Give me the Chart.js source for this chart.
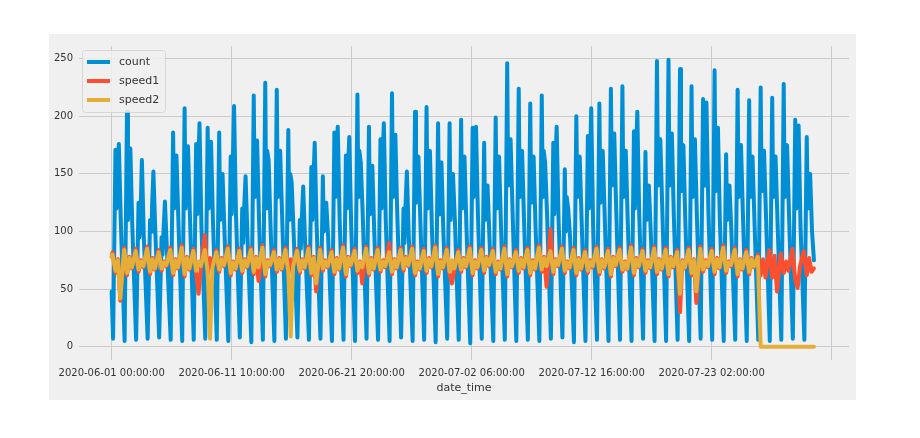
<!DOCTYPE html>
<html>
<head>
<meta charset="utf-8">
<script src="https://cdn.jsdelivr.net/npm/chart.js@4.4.1/dist/chart.umd.min.js"></script>
<style>
  body { margin: 0; background: #ffffff; }
  #fig { position: absolute; left: 49px; top: 34px; width: 807px; height: 366px; background: #f0f0f0; }
</style>
</head>
<body>
<div id="fig"><canvas id="myChart" width="807" height="366"></canvas></div>
<script>
// hours since 2020-06-01 00:00, a few readings per day (61 days)
var countHours = [3, 8, 10, 12, 15, 19];
var speedHours = [2, 8, 13, 18];
var startValues = [48, 78, 78];   // count, speed1, speed2 at hour 0
var endValues = [75, 68, 0];      // at lastHour
var lastHour = 1463;

var countNight = [7, 5, 6, 7, 8, 6, 5, 6, 7, 6,
  5, 8, 4, 6, 5, 7, 8, 6, 7, 5,
  6, 5, 7, 6, 5, 8, 5, 6, 4, 7,
  6, 3, 7, 5, 6, 5, 6, 5, 7, 8,
  4, 5, 6, 5, 6, 5, 7, 5, 5, 6,
  5, 7, 6, 5, 6, 5, 6, 5, 6, 7,
  6];
var countAm = [171, 204, 125, 110, 95, 186, 207, 176, 190, 186,
  165, 120, 218, 229, 223, 188, 110, 156, 148, 186,
  166, 219, 191, 180, 220, 120, 204, 208, 194, 194,
  197, 190, 177, 199, 246, 224, 211, 218, 177, 154,
  200, 183, 211, 224, 226, 187, 169, 248, 249, 241,
  226, 215, 240, 167, 223, 214, 225, 216, 228, 197,
  182];
var countDip = [120, 110, 95, 100, 80, 120, 120, 115, 120, 110,
  115, 90, 130, 120, 130, 110, 85, 110, 100, 130,
  120, 130, 115, 120, 130, 90, 125, 120, 115, 110,
  120, 130, 110, 120, 140, 130, 125, 130, 115, 100,
  130, 120, 125, 140, 130, 120, 110, 140, 140, 135,
  130, 140, 135, 110, 130, 130, 135, 130, 130, 120,
  120];
var countMid = [150, 160, 110, 120, 100, 150, 160, 150, 160, 140,
  150, 120, 160, 170, 160, 150, 110, 140, 120, 160,
  150, 170, 150, 160, 170, 120, 160, 165, 155, 150,
  160, 165, 140, 160, 170, 165, 160, 170, 150, 130,
  160, 150, 165, 175, 170, 160, 140, 180, 175, 170,
  170, 175, 170, 140, 165, 160, 170, 165, 170, 160,
  150];
var countPm = [176, 172, 162, 152, 126, 166, 174, 194, 178, 150,
  209, 148, 179, 162, 170, 143, 139, 177, 125, 191,
  182, 160, 157, 194, 184, 152, 165, 170, 160, 150,
  165, 191, 140, 165, 180, 170, 165, 160, 191, 120,
  165, 207, 170, 185, 170, 204, 140, 180, 185, 175,
  180, 212, 190, 140, 175, 165, 170, 165, 175, 192,
  150];
var countEve = [110, 105, 95, 100, 85, 110, 115, 105, 110, 100,
  115, 95, 110, 105, 115, 100, 90, 105, 95, 110,
  105, 115, 100, 110, 115, 95, 110, 105, 100, 110,
  105, 115, 95, 105, 120, 110, 105, 115, 110, 95,
  110, 105, 115, 120, 110, 115, 100, 120, 115, 110,
  115, 120, 110, 100, 115, 110, 115, 110, 115, 105,
  100];

var speed1Night = [82, 86, 85, 87, 84, 86, 88, 85, 97, 84,
  87, 85, 86, 88, 84, 86, 85, 87, 86, 84,
  88, 85, 87, 86, 90, 86, 87, 85, 88, 86,
  84, 87, 86, 85, 87, 84, 86, 88, 102, 87,
  86, 84, 87, 85, 86, 88, 85, 87, 86, 84,
  86, 87, 85, 88, 86, 84, 80, 84, 81, 85,
  83];
var speed1Am = [64, 62, 65, 63, 66, 62, 61, 64, 63, 65,
  62, 64, 63, 61, 65, 63, 64, 62, 66, 63,
  61, 64, 62, 65, 63, 66, 62, 64, 61, 63,
  65, 62, 64, 63, 61, 64, 62, 65, 63, 64,
  62, 64, 63, 61, 65, 62, 64, 63, 61, 30,
  62, 65, 63, 64, 61, 63, 62, 60, 64, 58,
  62];
var speed1Noon = [76, 78, 75, 77, 74, 76, 78, 46, 77, 77,
  74, 76, 78, 75, 77, 76, 76, 78, 75, 77,
  78, 74, 77, 75, 76, 78, 74, 77, 75, 55,
  77, 75, 78, 74, 76, 77, 75, 78, 76, 74,
  77, 75, 76, 78, 74, 77, 75, 76, 78, 75,
  76, 75, 77, 74, 76, 77, 76, 79, 74, 51,
  77];
var speed1Eve = [40, 68, 69, 67, 70, 68, 67, 69, 68, 70,
  67, 69, 57, 70, 67, 69, 68, 48, 69, 67,
  70, 55, 67, 69, 68, 70, 67, 69, 68, 67,
  69, 68, 70, 67, 69, 68, 67, 52, 70, 68,
  67, 69, 68, 70, 67, 69, 68, 67, 69, 68,
  38, 69, 68, 70, 67, 69, 60, 48, 66, 70,
  65];

var speed2Night = [80, 84, 83, 85, 82, 84, 86, 83, 84, 82,
  85, 83, 84, 86, 82, 84, 83, 85, 84, 82,
  86, 83, 85, 84, 82, 84, 85, 83, 86, 84,
  82, 85, 84, 83, 85, 82, 84, 86, 83, 85,
  84, 82, 85, 83, 84, 86, 83, 85, 84, 82,
  84, 85, 83, 86, 84, 82, 78, 0, 0, 0,
  0];
var speed2Am = [66, 64, 67, 65, 68, 64, 63, 66, 65, 67,
  64, 66, 65, 63, 67, 65, 66, 64, 68, 65,
  63, 66, 64, 67, 65, 68, 64, 66, 63, 65,
  67, 64, 66, 65, 63, 66, 64, 67, 65, 66,
  64, 66, 65, 63, 67, 64, 66, 65, 63, 46,
  64, 67, 65, 66, 63, 65, 0, 0, 0, 0,
  0];
var speed2Noon = [75, 77, 74, 76, 73, 75, 77, 74, 7, 76,
  73, 75, 77, 74, 76, 9, 75, 77, 74, 76,
  77, 73, 76, 74, 75, 77, 73, 76, 74, 75,
  76, 74, 77, 73, 75, 76, 74, 77, 75, 73,
  76, 74, 75, 77, 73, 76, 74, 75, 77, 74,
  75, 74, 76, 73, 75, 76, 0, 0, 0, 0,
  0];
var speed2Eve = [42, 69, 70, 68, 71, 69, 68, 70, 69, 71,
  68, 70, 69, 71, 68, 70, 69, 55, 70, 68,
  71, 69, 68, 70, 69, 71, 68, 70, 69, 68,
  70, 69, 71, 68, 70, 69, 68, 70, 71, 69,
  68, 70, 69, 71, 68, 70, 69, 68, 70, 69,
  48, 70, 69, 71, 68, 70, 0, 0, 0, 0,
  0];

var xTickHours = [0, 250, 500, 750, 1000, 1250, 1500];
var xTickLabels = ["2020-06-01 00:00:00", "2020-06-11 10:00:00", "2020-06-21 20:00:00",
  "2020-07-02 06:00:00", "2020-07-12 16:00:00", "2020-07-23 02:00:00", ""];
var yTicks = [0, 50, 100, 150, 200, 250];

// turn the per-day arrays into {x, y} points in time order
function toPoints(hours, series, first, last) {
  var pts = [{x: 0, y: first}];
  for (var d = 0; d < series[0].length; d++) {
    for (var k = 0; k < hours.length; k++) {
      pts.push({x: d * 24 + hours[k], y: series[k][d]});
    }
  }
  pts.push({x: lastHour, y: last});
  return pts;
}

var txt = "#333333";
var font = {family: "'DejaVu Sans'", size: 10};

// matplotlib-style legend box inside the plot, top left
var legendBox = {
  id: "legendBox",
  afterDatasetsDraw: function (chart) {
    var ctx = chart.ctx;
    var a = chart.chartArea;
    var x = a.left + 3, y = a.top + 4, w = 83, h = 62;
    ctx.save();
    ctx.fillStyle = "rgba(240,240,240,0.85)";
    ctx.strokeStyle = "rgba(204,204,204,0.7)";
    ctx.lineWidth = 1;
    ctx.beginPath();
    if (ctx.roundRect) ctx.roundRect(x + 0.5, y + 0.5, w, h, 3);
    else ctx.rect(x + 0.5, y + 0.5, w, h);
    ctx.fill();
    ctx.stroke();
    ctx.font = "11px 'DejaVu Sans'";
    ctx.textBaseline = "middle";
    chart.data.datasets.forEach(function (ds, i) {
      var ly = y + 12 + i * 19;
      ctx.strokeStyle = ds.borderColor;
      ctx.lineWidth = 4;
      ctx.lineCap = "butt";
      ctx.beginPath();
      ctx.moveTo(x + 5, ly);
      ctx.lineTo(x + 28, ly);
      ctx.stroke();
      ctx.fillStyle = txt;
      ctx.fillText(ds.label, x + 37, ly);
    });
    ctx.restore();
  }
};

new Chart("myChart", {
  type: "line",
  data: {
    datasets: [
      {
        label: "count",
        data: toPoints(countHours, [countNight, countAm, countDip, countMid, countPm, countEve], startValues[0], endValues[0]),
        borderColor: "#008fd5",
        order: 2
      },
      {
        label: "speed1",
        data: toPoints(speedHours, [speed1Night, speed1Am, speed1Noon, speed1Eve], startValues[1], endValues[1]),
        borderColor: "#fc4f30",
        order: 1
      },
      {
        label: "speed2",
        data: toPoints(speedHours, [speed2Night, speed2Am, speed2Noon, speed2Eve], startValues[2], endValues[2]),
        borderColor: "#e5ae38",
        order: 0
      }
    ]
  },
  options: {
    responsive: false,
    animation: false,
    devicePixelRatio: 1,
    parsing: false,
    datasets: {
      line: {
        borderWidth: 4,
        pointRadius: 0,
        tension: 0,
        fill: false,
        borderJoinStyle: "round",
        borderCapStyle: "round"
      }
    },
    layout: {padding: {left: 0, right: 7, top: 7, bottom: 0}},
    plugins: {
      legend: {display: false},
      tooltip: {enabled: false}
    },
    scales: {
      x: {
        type: "linear",
        min: -68,
        max: 1536,
        afterBuildTicks: function (scale) {
          scale.ticks = xTickHours.map(function (v) { return {value: v}; });
        },
        afterFit: function (scale) { scale.height = 40; },
        grid: {color: "#cbcbcb", lineWidth: 1, drawTicks: false},
        border: {display: false},
        ticks: {
          autoSkip: false,
          maxRotation: 0,
          padding: 7,
          color: txt,
          font: font,
          callback: function (value) {
            var i = xTickHours.indexOf(value);
            return i < 0 ? "" : xTickLabels[i];
          }
        },
        title: {
          display: true,
          text: "date_time",
          color: txt,
          font: {family: "'DejaVu Sans'", size: 11},
          padding: {top: 0, bottom: 5}
        }
      },
      y: {
        min: -11.5,
        max: 261,
        afterBuildTicks: function (scale) {
          scale.ticks = yTicks.map(function (v) { return {value: v}; });
        },
        afterFit: function (scale) { scale.width = 30; },
        grid: {color: "#cbcbcb", lineWidth: 1, drawTicks: false},
        border: {display: false},
        ticks: {padding: 6, color: txt, font: font}
      }
    }
  },
  plugins: [legendBox]
});
</script>
</body>
</html>
